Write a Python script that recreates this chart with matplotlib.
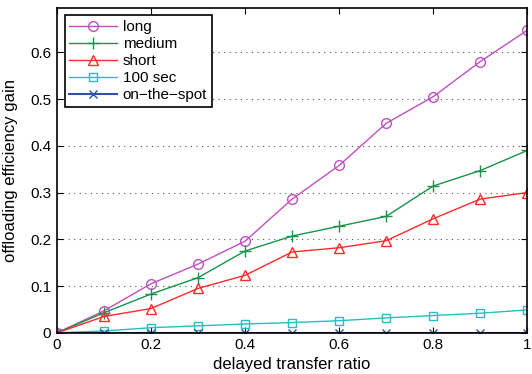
import numpy as np
import matplotlib
matplotlib.use("Agg")
import matplotlib.pyplot as plt

plt.rcParams['font.family'] = ['Liberation Sans', 'DejaVu Sans']

ratio = [0, 0.1, 0.2, 0.3, 0.4, 0.5, 0.6, 0.7, 0.8, 0.9, 1.0]
long_gain = [0, 0.047, 0.105, 0.147, 0.196, 0.286, 0.358, 0.448, 0.505, 0.580, 0.647]
medium_gain = [0, 0.043, 0.083, 0.118, 0.175, 0.207, 0.228, 0.249, 0.314, 0.347, 0.390]
short_gain = [0, 0.035, 0.052, 0.095, 0.123, 0.173, 0.182, 0.197, 0.244, 0.286, 0.300]
sec100_gain = [0, 0.004, 0.011, 0.015, 0.019, 0.022, 0.026, 0.032, 0.037, 0.042, 0.049]
spot_gain = [0, 0, 0, 0, 0, 0, 0, 0, 0, 0, 0]

fig = plt.figure(figsize=(5.32, 3.74), dpi=100)
ax = fig.add_axes([0.107, 0.110, 0.884, 0.869])

ax.plot(ratio, long_gain, color='#c050c0', marker='o', ms=7, mfc='none', lw=1, label='long')
ax.plot(ratio, medium_gain, color='#16944a', marker='+', ms=9, mew=1, lw=1, label='medium')
ax.plot(ratio, short_gain, color='#ff2a2a', marker='^', ms=7.5, mfc='none', lw=1, label='short')
ax.plot(ratio, sec100_gain, color='#22c0c0', marker='s', ms=5.5, mfc='none', lw=1, label='100 sec')
ax.plot(ratio, spot_gain, color='#3050a8', marker='x', ms=6, lw=1.5, label='on\u2212the\u2212spot')

ax.set_xlim(0, 1)
ax.set_ylim(0, 0.695)
ax.set_xticks([0, 0.2, 0.4, 0.6, 0.8, 1])
ax.set_xticklabels(['0', '0.2', '0.4', '0.6', '0.8', '1'])
ax.set_yticks([0, 0.1, 0.2, 0.3, 0.4, 0.5, 0.6])
ax.set_yticklabels(['0', '0.1', '0.2', '0.3', '0.4', '0.5', '0.6'])
ax.tick_params(direction='in', top=True, right=True, labelsize=11, length=4, pad=4)
ax.yaxis.grid(True, linestyle=(0, (1, 4)), color='#555555', lw=0.8)
for s in ax.spines.values():
    s.set_linewidth(1.2)

ax.set_xlabel('delayed transfer ratio', fontsize=12, labelpad=3)
ax.set_ylabel('offloading efficiency gain', fontsize=12, labelpad=9)

leg = ax.legend(loc='upper left', fontsize=11, fancybox=False, framealpha=1,
                edgecolor='black', handlelength=3.1, handletextpad=0.4,
                borderaxespad=0.5, labelspacing=0.2, borderpad=0.3)
leg.get_frame().set_linewidth(1.2)

fig.savefig('out.png', dpi=100)
